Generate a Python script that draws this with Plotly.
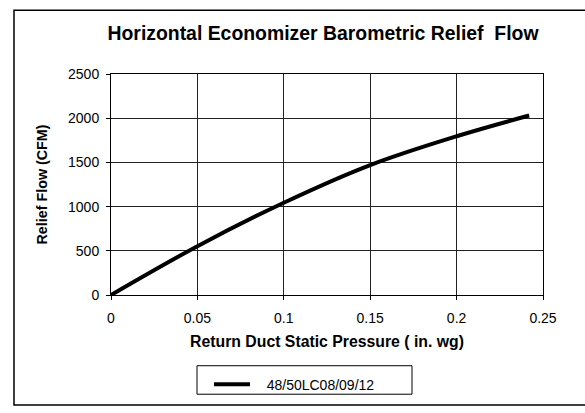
import plotly.graph_objects as go

# Data
pressure = [0.0, 0.05, 0.10, 0.15, 0.20, 0.242]
relief_flow = [0, 552, 1044, 1470, 1796, 2030]
series_name = "48/50LC08/09/12"
x_ticks = [0, 0.05, 0.1, 0.15, 0.2, 0.25]
x_tick_text = ["0", "0.05", "0.1", "0.15", "0.2", "0.25"]
y_ticks = [0, 500, 1000, 1500, 2000, 2500]

FONT = "Arial, 'Liberation Sans', Helvetica, sans-serif"

fig = go.Figure()
fig.add_trace(go.Scatter(
    x=pressure, y=relief_flow, mode="lines",
    name="\u00a0\u00a0\u00a0" + series_name,
    line=dict(color="black", width=4, shape="spline"),
))

W, H = 585, 413
L, R, T, B = 111, 42, 74, 114
pw, ph = W - L - R, H - T - B

def px(xp):
    return (xp - L) / pw

def py(yp):
    return (H - B - yp) / ph

fig.update_layout(
    width=W, height=H, autosize=False,
    margin=dict(l=L, r=R, t=T, b=B, pad=0),
    paper_bgcolor="white", plot_bgcolor="white",
    font=dict(family=FONT, size=14, color="black"),
    title=dict(text="<b>Horizontal Economizer Barometric Relief\u00a0 Flow</b>",
               x=px(323), xref="paper", xanchor="center",
               y=1 - 33 / H, yanchor="middle",
               font=dict(size=19.4, family=FONT, color="black")),
    xaxis=dict(range=[0, 0.25], tickvals=x_ticks, ticktext=x_tick_text,
               showgrid=True, gridcolor="#222", gridwidth=1,
               showline=True, linecolor="black", linewidth=1, mirror=True,
               ticks="outside", ticklen=4, tickcolor="black",
               ticklabelstandoff=6,
               zeroline=False, tickfont=dict(size=14),
               title=dict(text="<b>Return Duct Static Pressure ( in. wg)</b>",
                          font=dict(size=15.8, family=FONT), standoff=11)),
    yaxis=dict(range=[0, 2500], tickvals=y_ticks,
               showgrid=True, gridcolor="#222", gridwidth=1,
               showline=True, linecolor="black", linewidth=1, mirror=True,
               ticks="outside", ticklen=4, tickcolor="black",
               ticklabelstandoff=4,
               zeroline=False, tickfont=dict(size=14),
               title=dict(text="<b>Relief Flow (CFM)</b>",
                          font=dict(size=14.3, family=FONT), standoff=17)),
    showlegend=True,
    legend=dict(x=px(209), y=py(374), xanchor="left", yanchor="top",
                borderwidth=0, bgcolor="rgba(0,0,0,0)", itemwidth=36,
                font=dict(size=14, family=FONT)),
    shapes=[
        dict(type="rect", xref="paper", yref="paper",
             x0=px(14), x1=px(600), y0=py(411), y1=py(9),
             line=dict(color="black", width=1.5), layer="below"),
        dict(type="rect", xref="paper", yref="paper",
             x0=px(197), x1=px(412), y0=py(400), y1=py(371),
             line=dict(color="black", width=1), layer="below"),
    ],
)

fig.write_html("out.html", config={"displayModeBar": False, "responsive": False},
               post_script="document.body.style.margin='0px';")
